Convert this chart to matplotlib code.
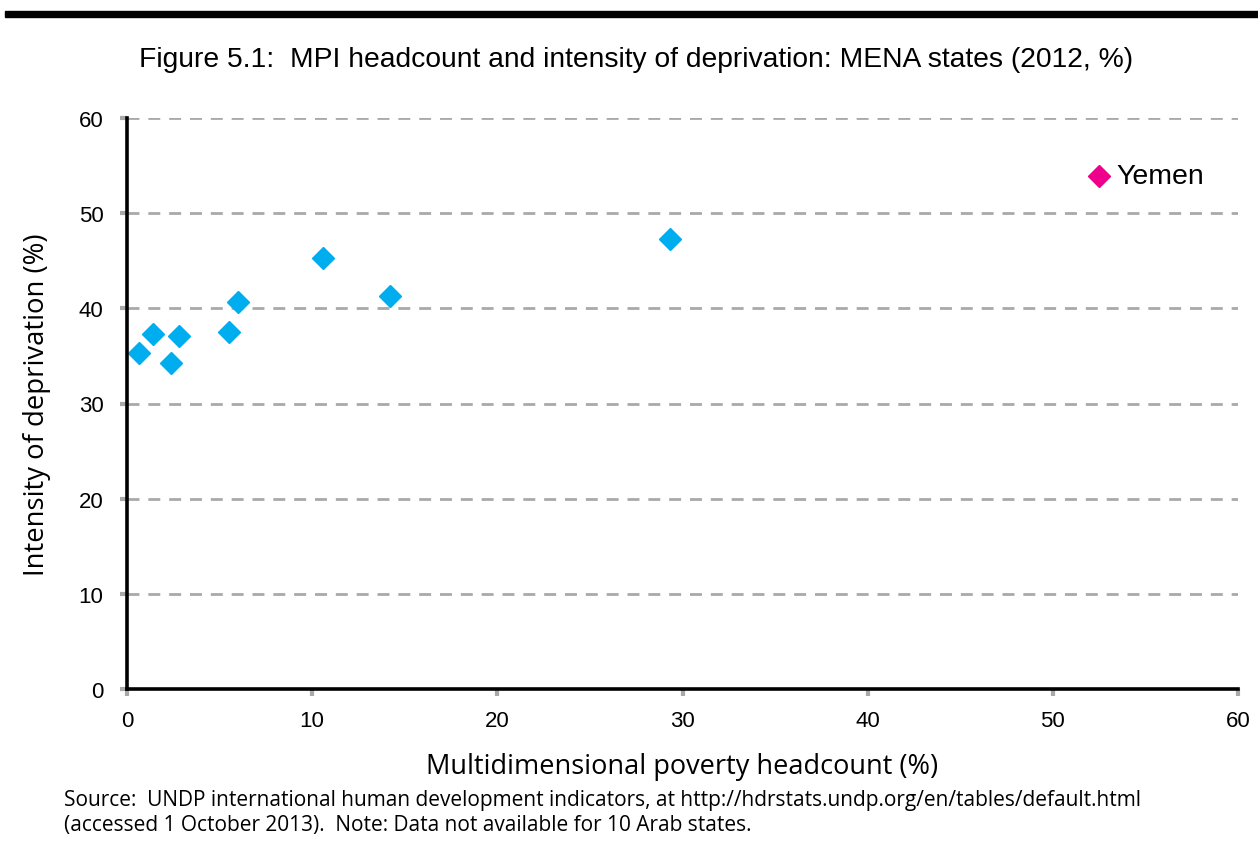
import matplotlib
matplotlib.use("Agg")
import matplotlib.pyplot as plt
from matplotlib.patches import Rectangle

headcount = [0.65, 1.4, 2.4, 2.8, 5.5, 6.0, 10.6, 14.2, 29.3]
intensity = [35.3, 37.3, 34.3, 37.1, 37.5, 40.7, 45.3, 41.3, 47.3]
yemen_x = [52.5]
yemen_y = [53.9]
yemen_label = "Yemen"
ticks = [0, 10, 20, 30, 40, 50, 60]

title = "Figure 5.1:  MPI headcount and intensity of deprivation: MENA states (2012, %)"
xlabel = "Multidimensional poverty headcount (%)"
ylabel = "Intensity of deprivation (%)"
source = ("Source:  UNDP international human development indicators, at http://hdrstats.undp.org/en/tables/default.html\n"
          "(accessed 1 October 2013).  Note: Data not available for 10 Arab states.")

W, H = 1258, 853
fig = plt.figure(figsize=(W/100, H/100), dpi=100)
ax = fig.add_axes([127/W, 1-690/H, (1238-127)/W, (690-119)/H])

blue = "#00AEEF"
pink = "#EC008C"
grid = "#A9A9A9"

for t in ticks[1:]:
    ax.axhline(t, color=grid, lw=2, ls=(0, (4.3, 3.2)), zorder=1)

ax.plot(headcount, intensity, ls="none", marker="D", ms=11, color=blue, mec=blue, zorder=3)
ax.plot(yemen_x, yemen_y, ls="none", marker="D", ms=11, color=pink, mec=pink, zorder=3)
ax.text(yemen_x[0] + 0.95, yemen_y[0], yemen_label, fontsize=20.5, family="Liberation Sans",
        va="center", ha="left")

ax.set_xlim(0, 60)
ax.set_ylim(0, 60)
ax.set_xticks(ticks)
ax.set_yticks(ticks)
ax.set_xticklabels([str(t) for t in ticks], family="Liberation Sans", fontsize=16)
ax.set_yticklabels([str(t) for t in ticks], family="Liberation Sans", fontsize=16)
ax.tick_params(axis="both", color=grid, width=3, length=5, direction="out")
ax.tick_params(axis="x", pad=10)
ax.tick_params(axis="y", pad=12)
for s in ["top", "right"]:
    ax.spines[s].set_visible(False)
for s in ["left", "bottom"]:
    ax.spines[s].set_linewidth(2.6)
    ax.spines[s].set_color("black")
    ax.spines[s].set_zorder(4)

ax.set_xlabel(xlabel, fontsize=19.5, family="Open Sans", labelpad=15)
ax.set_ylabel(ylabel, fontsize=19.8, family="Open Sans", labelpad=20)

fig.text(636/W, 1-60/H, title, fontsize=20.3, family="Liberation Sans", ha="center", va="center")
fig.text(64/W, 1-813/H, source, fontsize=15, family="Open Sans", ha="left", va="center",
         linespacing=1.2)

fig.patches.append(Rectangle((5/W, 1-18/H), 1, 6/H, transform=fig.transFigure,
                             color="black", zorder=5))

fig.savefig("out.png", dpi=100)
